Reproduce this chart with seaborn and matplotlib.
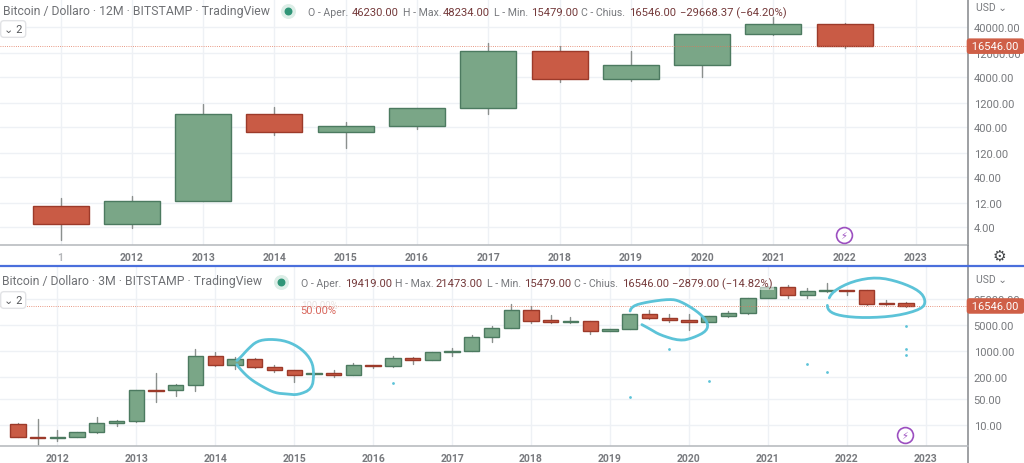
import seaborn as sns
import matplotlib.pyplot as plt
import numpy as np
import pandas as pd

GREEN = "#7aa687"
GREEN_EDGE = "#4c7a60"
RED = "#c95b45"
RED_EDGE = "#9c3a2a"
WICK = "#8b908e"
GRID = "#eef1f5"
GRAY = "#77797d"
VALUE = "#74393a"
CYAN = "#5cc3d8"
PURPLE = "#9c4fc0"


def candle_panel(rect, rows, width, xlim, ylim, xticks, xlabels, yticks, legend):
    """Draw one candlestick panel on the current axes."""
    plt.axes(rect)
    df = pd.DataFrame(rows, columns=["date", "open", "high", "low", "close"])
    up = df["close"] >= df["open"]

    # Wicks go first, one line per candle
    wicks = df.melt(id_vars="date", value_vars=["high", "low"], value_name="price")
    sns.lineplot(data=wicks, x="date", y="price", units="date", estimator=None,
                 color=WICK, linewidth=1, zorder=2)
    plt.yscale("log")

    # Bodies
    bottoms = df[["open", "close"]].min(axis=1)
    heights = df[["open", "close"]].max(axis=1) - bottoms
    plt.bar(df["date"][up], heights[up], bottom=bottoms[up], width=width,
            color=GREEN, edgecolor=GREEN_EDGE, linewidth=1, zorder=3)
    plt.bar(df["date"][~up], heights[~up], bottom=bottoms[~up], width=width,
            color=RED, edgecolor=RED_EDGE, linewidth=1, zorder=3)

    # Set limits and labels
    plt.xlim(*xlim)
    plt.ylim(*ylim)
    plt.xlabel("")
    plt.ylabel("")

    # Customize ticks
    plt.xticks(ticks=xticks, labels=xlabels, fontsize=7.5, fontweight="bold", color=GRAY)
    plt.yticks(ticks=yticks, labels=[f"{t:.2f}" for t in yticks], fontsize=8, color=GRAY)
    plt.minorticks_off()
    plt.tick_params(axis="both", length=0)
    plt.tick_params(axis="x", pad=5)
    plt.tick_params(axis="y", left=False, labelleft=False, labelright=True, pad=4)
    plt.grid(True, color=GRID, linewidth=1, zorder=0)
    plt.gca().set_axisbelow(True)
    for side in ["top", "left"]:
        plt.gca().spines[side].set_visible(False)
    plt.gca().spines["bottom"].set_color("#b9bcc0")
    plt.gca().spines["bottom"].set_linewidth(1.2)
    plt.gca().spines["right"].set_color("#8d9094")
    plt.gca().spines["right"].set_linewidth(1.2)

    # Last price line and its box
    last = df["close"].iloc[-1]
    plt.axhline(last, color="#e0765a", linewidth=0.6, linestyle=":", zorder=4)
    plt.text(1.0015, last, f" {last:.2f} ", transform=plt.gca().get_yaxis_transform(),
             fontsize=8, color="white", va="center", ha="left", zorder=9,
             bbox=dict(boxstyle="round,pad=0.25", fc="#cf5f47", ec="none"))

    # Legend row above the candles
    for x, y, text, color in legend:
        size = 7.6 if color == GRAY else 8.1
        plt.figtext(x / 1024, 1 - y / 464, text, fontsize=size, color=color, va="center", zorder=10)


def header(x, y, text, dot_x):
    """Title, status dot and the small collapse box of a panel."""
    plt.figtext(x / 1024, 1 - y / 464, text, fontsize=8.8, color="#6f7175", va="center")
    plt.scatter([dot_x / 1024], [1 - (y + 0.5) / 464], s=95, color="#dceee7",
                transform=plt.gcf().transFigure, clip_on=False, zorder=8)
    plt.scatter([dot_x / 1024], [1 - (y + 0.5) / 464], s=22, color="#2f9577",
                transform=plt.gcf().transFigure, clip_on=False, zorder=9)
    plt.figtext(4 / 1024, 1 - (y + 19) / 464, "⌄ 2", fontsize=8, color="#55575a", va="center",
                bbox=dict(boxstyle="round,pad=0.3", fc="white", ec="#e2e3e6"))


def bolt(x, y):
    """Purple lightning badge near the last candles."""
    plt.scatter([x / 1024], [1 - y / 464], s=130, facecolor="white", edgecolor=PURPLE, linewidth=1.2,
                transform=plt.gcf().transFigure, clip_on=False, zorder=8)
    plt.figtext(x / 1024, 1 - y / 464, "⚡", fontsize=7, color=PURPLE, ha="center", va="center", zorder=9)


def scribble(xs, ys):
    """Hand drawn circle, in screen pixels of the picture."""
    pts = np.column_stack([xs, ys]).astype(float)
    # Round the corners a little
    for _ in range(2):
        first = 0.75 * pts[:-1] + 0.25 * pts[1:]
        second = 0.25 * pts[:-1] + 0.75 * pts[1:]
        pts = np.stack([first, second], axis=1).reshape(-1, 2)
    plt.plot(pts[:, 0] / 1024, 1 - pts[:, 1] / 464, color=CYAN, linewidth=2,
             solid_joinstyle="round", solid_capstyle="round",
             transform=plt.gcf().transFigure, clip_on=False, zorder=7)


def visualize_candles():
    """Visualize the yearly and the quarterly Bitcoin candles."""
    # date, open, high, low, close
    yearly = [
        (2011, 10.7, 15.1, 2.2, 4.6),
        (2012, 4.6, 16.7, 3.8, 13.2),
        (2013, 13.2, 1153, 13, 728),
        (2014, 728, 1005, 277, 318),
        (2015, 318, 503, 152, 419),
        (2016, 419, 960, 365, 960),
        (2017, 960, 19140, 728, 13430),
        (2018, 13430, 16900, 3177, 3648),
        (2019, 3648, 13430, 3327, 7050),
        (2020, 7050, 28970, 4000, 28970),
        (2021, 28970, 63400, 27700, 46230),
        (2022, 46230, 48234, 15479, 16546),
    ]
    quarterly = [
        (2011.50, 10.6, 11.8, 4.74, 4.74),
        (2011.75, 4.84, 14.5, 2.9, 4.45),
        (2012.00, 4.45, 7.3, 3.8, 4.84),
        (2012.25, 4.74, 6.7, 4.7, 6.5),
        (2012.50, 6.5, 16.5, 6.3, 11.8),
        (2012.75, 11.8, 14.2, 9.6, 13.1),
        (2013.00, 13.1, 92, 12.6, 92),
        (2013.25, 92, 254, 43.6, 86.5),
        (2013.50, 88, 128, 62, 121),
        (2013.75, 121, 1132, 85, 718),
        (2014.00, 718, 959, 402, 427),
        (2014.25, 427, 675, 333, 608),
        (2014.50, 621, 634, 355, 370),
        (2014.75, 377, 436, 271, 313),
        (2015.00, 306, 306, 145, 234),
        (2015.25, 239, 265, 229, 254),
        (2015.50, 254, 306, 198, 225),
        (2015.75, 229, 484, 225, 410),
        (2016.00, 410, 436, 347, 393),
        (2016.25, 402, 748, 370, 647),
        (2016.50, 661, 675, 445, 583),
        (2016.75, 583, 939, 571, 920),
        (2017.00, 920, 1230, 748, 1021),
        (2017.25, 1021, 2763, 1000, 2340),
        (2017.50, 2340, 4838, 1786, 4098),
        (2017.75, 4098, 18620, 4098, 13100),
        (2018.00, 13100, 16800, 5712, 6600),
        (2018.25, 6745, 9397, 5712, 5950),
        (2018.50, 5950, 8127, 5712, 6467),
        (2018.75, 6334, 6467, 2940, 3546),
        (2019.00, 3546, 3933, 3402, 3933),
        (2019.25, 3852, 10000, 3852, 10000),
        (2019.50, 10000, 12560, 7325, 7792),
        (2019.75, 7792, 9796, 6204, 6745),
        (2020.00, 6886, 9796, 3620, 6204),
        (2020.25, 6204, 8645, 5950, 8645),
        (2020.50, 8645, 11800, 8472, 10420),
        (2020.75, 10420, 27610, 10000, 27610),
        (2021.00, 27610, 55970, 27050, 54800),
        (2021.25, 54800, 59570, 27050, 32640),
        (2021.50, 32640, 51500, 27610, 41000),
        (2021.75, 41000, 67450, 39350, 43650),
        (2022.00, 44560, 45500, 32640, 41860),
        (2022.25, 43650, 45500, 17500, 19010),
        (2022.50, 19410, 24400, 17870, 18240),
        (2022.75, 19419, 21473, 15479, 16546),
    ]
    dots = pd.DataFrame({
        "date": [2016.25, 2019.25, 2019.75, 2020.25, 2021.5, 2021.75, 2022.75, 2022.75, 2022.75],
        "price": [134, 57, 1132, 161, 445, 282, 4838, 1110, 764],
    })

    sns.set_style("white")
    plt.rcParams["font.family"] = ["Roboto", "DejaVu Sans"]
    plt.figure(figsize=(10.24, 4.64), dpi=100)

    # Top panel: 12M
    top_legend = [
        (308, 13, "O - Aper.", GRAY), (352, 13, "46230.00", VALUE),
        (403, 13, "H - Max.", GRAY), (443, 13, "48234.00", VALUE),
        (494, 13, "L - Min.", GRAY), (531, 13, "15479.00", VALUE),
        (581, 13, "C - Chius.", GRAY), (629, 13, "16546.00", VALUE),
        (680, 13, "−29668.37 (−64.20%)", VALUE),
    ]
    candle_panel([0, 1 - 246 / 464, 968 / 1024, 246 / 464], yearly, 0.785,
                 (2010.15, 2023.73), (1.746, 145200),
                 list(range(2011, 2024)), ["1"] + [str(y) for y in range(2012, 2024)],
                 [4, 12, 40, 120, 400, 1200, 4000, 12000, 40000], top_legend)
    plt.gca().get_xticklabels()[0].set_color("#b5b7ba")
    header(3, 11, "Bitcoin / Dollaro · 12M · BITSTAMP · TradingView", 288)
    bolt(844, 236)

    # Bottom panel: 3M
    bottom_legend = [
        (301, 284, "O - Aper.", GRAY), (345, 284, "19419.00", VALUE),
        (395, 284, "H - Max.", GRAY), (436, 284, "21473.00", VALUE),
        (487, 284, "L - Min.", GRAY), (524, 284, "15479.00", VALUE),
        (574, 284, "C - Chius.", GRAY), (622, 284, "16546.00", VALUE),
    ]
    candle_panel([0, 1 - 447 / 464, 968 / 1024, 180 / 464], quarterly, 0.194,
                 (2011.274, 2023.535), (2.76, 198000),
                 list(range(2012, 2024)), [str(y) for y in range(2012, 2024)],
                 [10, 50, 200, 1000, 5000, 25000], bottom_legend)
    sns.scatterplot(data=dots, x="date", y="price", color=CYAN, s=4, linewidth=0, zorder=6)
    plt.xlabel("")
    plt.ylabel("")
    plt.figtext(672 / 1024, 1 - 284 / 464, "−2879.00 (−14.82%)", fontsize=8.1, color=VALUE, va="center", zorder=10,
                bbox=dict(boxstyle="square,pad=0.15", fc="white", ec="none", alpha=0.55))
    plt.figtext(301 / 1024, 1 - 306 / 464, "100.00%", fontsize=7, color="#e9e3e2", va="center")
    plt.figtext(300 / 1024, 1 - 311 / 464, "50.00%", fontsize=8, color="#d8665c", va="center")
    header(2, 282, "Bitcoin / Dollaro · 3M · BITSTAMP · TradingView", 281)
    bolt(905, 436)

    # Hand drawn circles
    scribble([235, 240, 248, 257, 270, 287, 302, 312, 314, 312, 298, 287, 275, 263, 250, 240, 235],
             [363, 359, 350, 342, 340, 342, 350, 362, 375, 390, 396, 395, 394, 388, 380, 370, 363])
    scribble([629, 632, 647, 670, 680, 697, 708, 707, 693, 680, 660, 650, 637],
             [315, 307, 303, 300, 302, 312, 323, 332, 339, 342, 336, 330, 323])
    scribble([827, 833, 853, 877, 900, 920, 926, 922, 897, 865, 840, 828, 827],
             [303, 292, 282, 278, 283, 292, 302, 310, 317, 319, 317, 312, 303])

    # Right side extras
    plt.figtext(976 / 1024, 1 - 8 / 464, "USD ⌄", fontsize=7.5, color=GRAY, va="center")
    plt.figtext(976 / 1024, 1 - 280 / 464, "USD ⌄", fontsize=7.5, color=GRAY, va="center")
    plt.figtext(999 / 1024, 1 - 257 / 464, "⚙", fontsize=11, color="#45474a", ha="center", va="center")

    # Panel separators
    plt.plot([0, 1], [1 - 266.5 / 464] * 2, color="#4a6fdc", linewidth=1.6,
             transform=plt.gcf().transFigure, clip_on=False, zorder=11)
    plt.plot([968 / 1024] * 2, [1 - 246 / 464, 1 - 266 / 464], color="#8d9094", linewidth=1.2,
             transform=plt.gcf().transFigure, clip_on=False)
    plt.plot([968 / 1024] * 2, [0, 1 - 447 / 464], color="#8d9094", linewidth=1.2,
             transform=plt.gcf().transFigure, clip_on=False)

    # Save the chart
    plt.savefig("out.png", dpi=100)


if __name__ == "__main__":
    visualize_candles()
